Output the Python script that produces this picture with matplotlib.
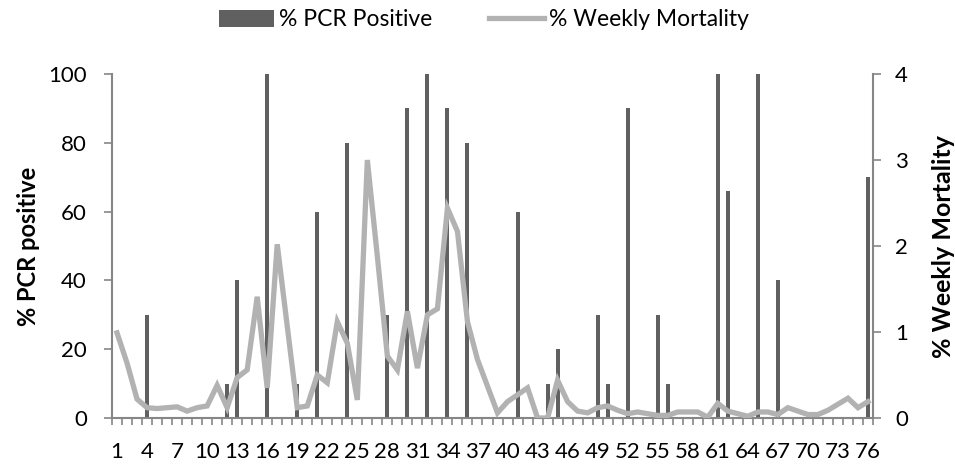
import matplotlib
matplotlib.use("Agg")
import matplotlib.pyplot as plt
from matplotlib.lines import Line2D
from matplotlib.patches import Patch

plt.rcParams['font.family'] = ['Lato', 'DejaVu Sans']

weeks = list(range(1, 77))
pcr_weeks = [4, 12, 13, 16, 19, 21, 24, 28, 30, 32, 34, 36, 41, 44, 45, 49, 50, 52, 55, 56, 61, 62, 65, 67, 76]
pcr_values = [30, 10, 40, 100, 10, 60, 80, 30, 90, 100, 90, 80, 60, 10, 20, 30, 10, 90, 30, 10, 100, 66, 100, 40, 70]
mortality = [0.99, 0.64, 0.22, 0.12, 0.11, 0.12, 0.13, 0.08, 0.12, 0.14,
             0.38, 0.12, 0.47, 0.56, 1.41, 0.35, 2.02, 1.07, 0.12, 0.14,
             0.50, 0.41, 1.12, 0.87, 0.21, 3.00, 1.88, 0.72, 0.56, 1.24,
             0.58, 1.20, 1.27, 2.44, 2.17, 1.12, 0.68, 0.37, 0.06, 0.19,
             0.27, 0.35, 0.00, 0.00, 0.44, 0.19, 0.08, 0.06, 0.12, 0.14,
             0.09, 0.05, 0.07, 0.05, 0.03, 0.03, 0.07, 0.07, 0.07, 0.01,
             0.17, 0.08, 0.05, 0.02, 0.07, 0.07, 0.04, 0.12, 0.08, 0.04,
             0.04, 0.09, 0.16, 0.23, 0.12, 0.19]
xtick_labels = [str(w) for w in range(1, 77, 3)]

bar_color = '#606060'
line_color = '#b2b2b2'
axis_color = '#868686'

fig = plt.figure(figsize=(9.55, 4.68), dpi=100)
ax = fig.add_axes([112/955, 1-418/468, (873-112)/955, (418-74)/468])
ax.bar(pcr_weeks, pcr_values, width=0.4, color=bar_color, zorder=2)
ax.set_xlim(0.5, 76.5)
ax.set_ylim(0, 100)
ax.set_yticks(range(0, 101, 20))
ax.set_xticks(range(1, 77, 3))
ax.set_xticklabels(xtick_labels)
ax.set_xticks([w + 0.5 for w in range(0, 77)], minor=True)
ax.tick_params(axis='x', which='major', length=0, pad=17, labelsize=16)
ax.tick_params(axis='x', which='minor', length=5, color=axis_color, width=1.2, direction='out')
ax.tick_params(axis='y', length=6, color=axis_color, width=1.2, labelsize=16, pad=12)
for s in ['top', 'right']:
    ax.spines[s].set_visible(False)
for s in ['left', 'bottom']:
    ax.spines[s].set_color(axis_color)
    ax.spines[s].set_linewidth(1.5)
ax.set_ylabel('% PCR positive', fontsize=17, fontweight='bold', labelpad=6)

ax2 = ax.twinx()
ax2.plot(weeks, mortality, color=line_color, linewidth=3.8, solid_joinstyle='miter', zorder=3)
ax2.set_ylim(0, 4)
ax2.set_yticks(range(0, 5))
ax2.tick_params(axis='y', length=6, color=axis_color, width=1.2, labelsize=16, pad=10)
for s in ['top', 'left', 'bottom']:
    ax2.spines[s].set_visible(False)
ax2.spines['right'].set_color(axis_color)
ax2.spines['right'].set_linewidth(1.5)
ax2.set_ylabel('% Weekly Mortality', fontsize=18, fontweight='bold', labelpad=17)

handles = [Patch(facecolor=bar_color, edgecolor='none'),
           Line2D([0], [0], color=line_color, linewidth=3.8)]
fig.legend(handles, ['% PCR Positive', '% Weekly Mortality'], loc='center',
           bbox_to_anchor=(484/955, 1-20/468), ncol=2, frameon=False, fontsize=16.5,
           handlelength=2.4, handletextpad=0.2, columnspacing=2.5)

fig.savefig('out.png', dpi=100)
